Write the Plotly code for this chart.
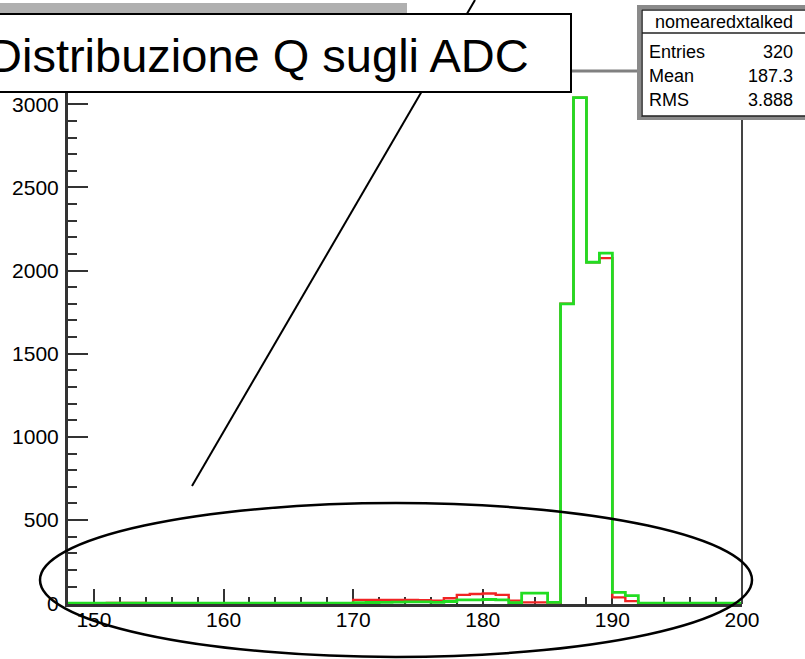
import plotly.graph_objects as go

# ---- data ----
bin_starts = [148, 149, 150, 151, 152, 153, 154, 155, 156, 157, 158, 159,
              160, 161, 162, 163, 164, 165, 166, 167, 168, 169,
              170, 171, 172, 173, 174, 175, 176, 177, 178, 179,
              180, 181, 182, 183, 184, 185, 186, 187, 188, 189,
              190, 191, 192, 193, 194, 195, 196, 197, 198, 199]
bin_width = 1

red_counts = [0, 0, 0, 1, 1, 1, 0, 0, 0, 0, 0, 0,
              0, 0, 0, 0, 0, 0, 0, 0, 0, 0,
              20, 20, 20, 20, 20, 18, 15, 30, 50, 55,
              58, 50, 15, 5, 5, 3, 1800, 3040, 2050, 2075,
              35, 12, 0, 0, 0, 0, 0, 0, 0, 0]

green_counts = [0, 0, 0, 0, 0, 0, 0, 0, 0, 0, 0, 0,
                0, 0, 0, 0, 0, 0, 0, 0, 0, 0,
                3, 4, 5, 6, 8, 8, 5, 10, 20, 20,
                22, 20, 3, 60, 60, 5, 1800, 3040, 2050, 2105,
                65, 45, 0, 0, 0, 0, 0, 0, 0, 0]

x_tick_vals = [150, 160, 170, 180, 190, 200]
x_tick_text = ["150", "160", "170", "180", "190", "200"]
y_tick_vals = [0, 500, 1000, 1500, 2000, 2500, 3000]
y_tick_text = ["0", "500", "1000", "1500", "2000", "2500", "3000"]

title_text = "Distribuzione Q sugli ADC"
stats_name = "nomearedxtalked"
stats_labels = ["Entries", "Mean", "RMS"]
stats_values = ["320", "187.3", "3.888"]

# ---- geometry helpers (pixel -> paper) ----
W, H = 805, 659
ML, MR, MT, MB = 68, 63, 71, 55
PW = W - ML - MR
PH = H - MT - MB


def px(X):
    return (X - ML) / PW


def py(Y):
    return (H - MB - Y) / PH


def step_xy(starts, counts, width):
    xs = list(starts) + [starts[-1] + width]
    ys = list(counts) + [counts[-1]]
    return xs, ys


fig = go.Figure()

for counts, color, w in [(red_counts, "#f02424", 2.4), (green_counts, "#22dd22", 2.8)]:
    xs, ys = step_xy(bin_starts, counts, bin_width)
    fig.add_trace(go.Scatter(x=xs, y=ys, mode="lines", line_shape="hv",
                             line=dict(color=color, width=w),
                             hoverinfo="skip", showlegend=False))

shapes = []
# remnant of original title pave (grey band at top-left)
shapes.append(dict(type="rect", xref="paper", yref="paper",
                   x0=px(-5), x1=px(407), y0=py(13), y1=py(3),
                   fillcolor="#b0b0b0", line=dict(width=0), layer="above"))
# frame top and right
shapes.append(dict(type="line", xref="paper", yref="paper",
                   x0=px(68), x1=px(742), y0=py(71), y1=py(71),
                   line=dict(color="#808080", width=3)))
shapes.append(dict(type="line", xref="paper", yref="paper",
                   x0=px(742), x1=px(742), y0=py(71), y1=py(604),
                   line=dict(color="#444444", width=2)))
# stats box
shapes.append(dict(type="rect", xref="paper", yref="paper",
                   x0=px(639), x1=px(812), y0=py(118), y1=py(7),
                   fillcolor="white", line=dict(color="#8a8a8a", width=4)))
shapes.append(dict(type="rect", xref="paper", yref="paper",
                   x0=px(642), x1=px(812), y0=py(116), y1=py(10),
                   fillcolor="rgba(0,0,0,0)", line=dict(color="#222222", width=1.5)))
shapes.append(dict(type="line", xref="paper", yref="paper",
                   x0=px(642), x1=px(805), y0=py(33), y1=py(33),
                   line=dict(color="#222222", width=1.5)))
# pointer line (behind the title box)
shapes.append(dict(type="line", xref="paper", yref="paper",
                   x0=px(192), x1=px(475), y0=py(486), y1=py(0),
                   line=dict(color="black", width=2)))
# title box
shapes.append(dict(type="rect", xref="paper", yref="paper",
                   x0=px(-10), x1=px(571), y0=py(92), y1=py(14),
                   fillcolor="white", line=dict(color="black", width=2)))
# ellipse
shapes.append(dict(type="circle", xref="paper", yref="paper",
                   x0=px(40), x1=px(752), y0=py(657), y1=py(503),
                   line=dict(color="black", width=2.5)))

annotations = [
    dict(text=title_text, xref="paper", yref="paper", x=px(-14), y=py(55),
         xanchor="left", yanchor="middle", showarrow=False,
         font=dict(family="Liberation Sans, Arial", size=47, color="black")),
    dict(text=stats_name, xref="paper", yref="paper", x=px(724), y=py(22),
         xanchor="center", yanchor="middle", showarrow=False,
         font=dict(family="Liberation Sans", size=18, color="black")),
]
row_y = [52, 76, 100]
for lab, val, yy in zip(stats_labels, stats_values, row_y):
    annotations.append(dict(text=lab, xref="paper", yref="paper", x=px(647), y=py(yy),
                            xanchor="left", yanchor="middle", showarrow=False,
                            font=dict(family="Liberation Sans", size=18, color="black")))
    annotations.append(dict(text=val, xref="paper", yref="paper", x=px(795), y=py(yy),
                            xanchor="right", yanchor="middle", showarrow=False,
                            font=dict(family="Liberation Sans", size=18, color="black")))

fig.update_layout(
    width=W, height=H, autosize=False,
    margin=dict(l=ML, r=MR, t=MT, b=MB, pad=0),
    paper_bgcolor="white", plot_bgcolor="white",
    shapes=shapes, annotations=annotations,
    showlegend=False,
    xaxis=dict(range=[148, 200], tickmode="array", tickvals=x_tick_vals, ticktext=x_tick_text,
               ticks="inside", ticklen=15, tickwidth=2, tickcolor="#333333",
               minor=dict(dtick=2, tick0=148, ticks="inside", ticklen=7, tickwidth=2, tickcolor="#333333"),
               showline=True, linewidth=3, linecolor="#333333", showgrid=False, zeroline=False,
               tickfont=dict(family="Liberation Sans", size=21, color="black"),
               ticklabelstandoff=-5, layer="below traces", fixedrange=True),
    yaxis=dict(range=[-5, 3200], tickmode="array", tickvals=y_tick_vals, ticktext=y_tick_text,
               ticks="inside", ticklen=20, tickwidth=2, tickcolor="#333333",
               minor=dict(dtick=100, tick0=0, ticks="inside", ticklen=9, tickwidth=2, tickcolor="#333333"),
               showline=True, linewidth=3, linecolor="#333333", showgrid=False, zeroline=False,
               tickfont=dict(family="Liberation Sans", size=21, color="black"),
               ticklabelstandoff=2, layer="below traces", fixedrange=True),
)

fig.write_html("out.html",
               config={"displayModeBar": False, "staticPlot": True},
               post_script="document.body.style.margin='0';document.body.style.overflow='hidden';")
